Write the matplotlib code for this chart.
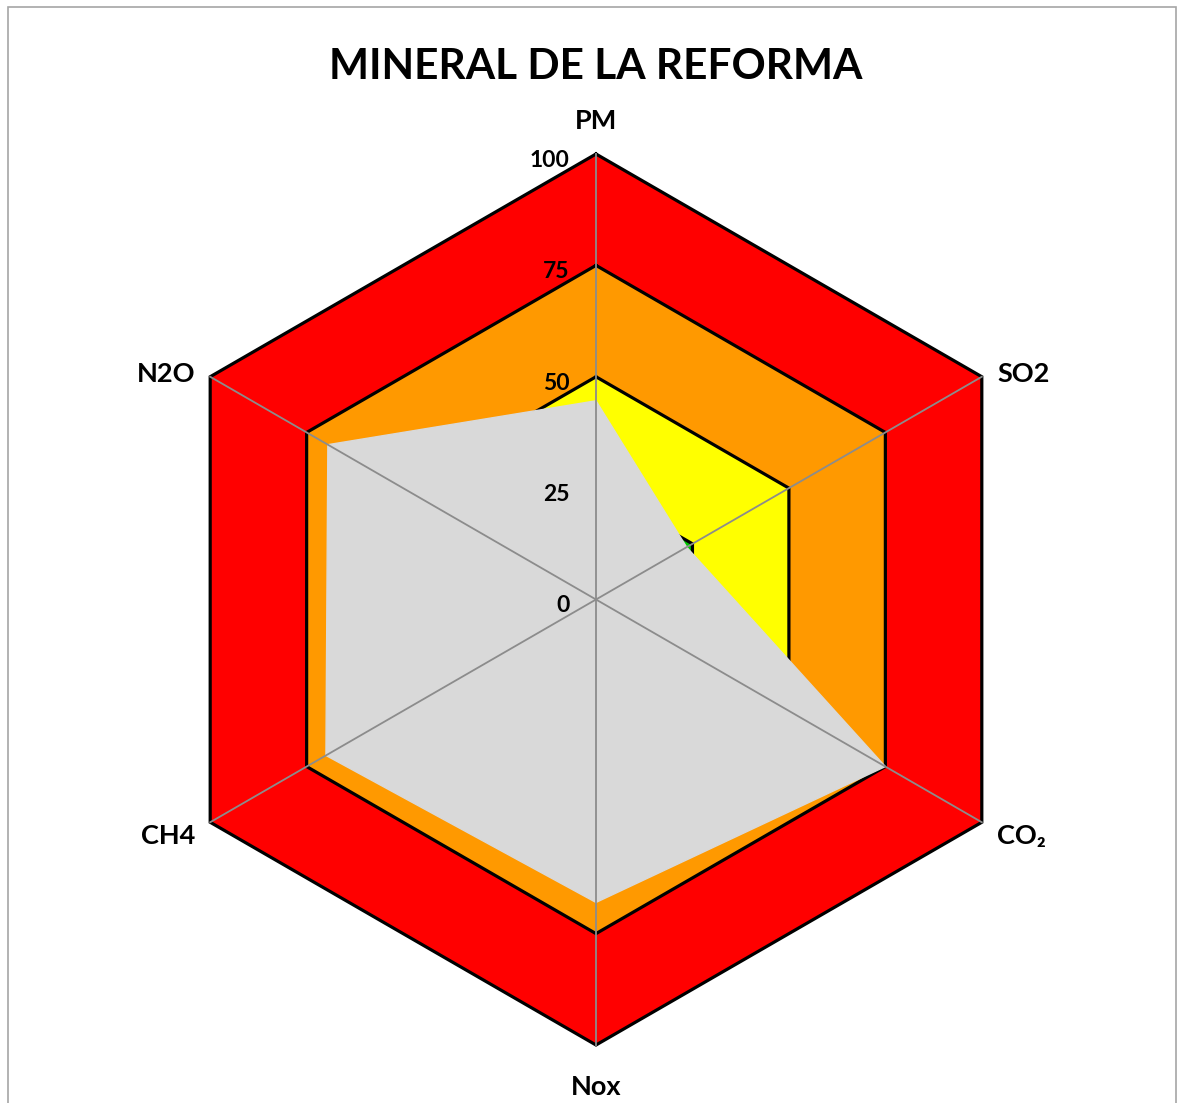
import numpy as np
import matplotlib.pyplot as plt
from matplotlib.patches import Rectangle

categories = ["PM", "SO2", "CO₂", "Nox", "CH4", "N2O"]
values = [44.6, 23.5, 75, 68, 70, 69.5]

band_levels = [100, 75, 50, 25]
band_colors = ["#FF0000", "#FF9900", "#FFFF00", "#00C800"]
tick_values = [0, 25, 50, 75, 100]

plt.rcParams["font.family"] = ["Lato", "DejaVu Sans"]

W, H = 1179, 1103
fig = plt.figure(figsize=(W / 100, H / 100), dpi=100)
fig.patch.set_facecolor("white")

cx, cy, R = 596, 599.5, 445.5
ax = fig.add_axes([(cx - R) / W, (H - cy - R) / H, 2 * R / W, 2 * R / H],
                  projection="polar")
ax.set_theta_zero_location("N")
ax.set_theta_direction(-1)
ax.set_ylim(0, 100)
ax.grid(False)
ax.spines["polar"].set_visible(False)
ax.set_xticks([])
ax.set_yticks([])
ax.patch.set_alpha(0)

n = len(categories)
theta = np.deg2rad(np.arange(n) * 360 / n)
theta_c = np.append(theta, theta[0])

# coloured bands with black outlines
for lvl, col in zip(band_levels, band_colors):
    r = np.full(n + 1, lvl)
    ax.fill(theta_c, r, color=col, zorder=1, clip_on=False)
    ax.plot(theta_c, r, color="black", lw=2.3, zorder=2, clip_on=False,
            solid_joinstyle="miter")

# data
vals = np.append(values, values[0])
ax.fill(theta_c, vals, color="#D9D9D9", zorder=3, clip_on=False)

# spokes
for t in theta:
    ax.plot([t, t], [0, 100], color="#8C8C8C", lw=1.3, zorder=4, clip_on=False)

# radial tick labels
for v in tick_values:
    ax.annotate(str(v), xy=(0, v), xytext=(-19, -4.5), textcoords="offset points",
                ha="right", va="center", fontsize=16.5, fontweight="bold",
                annotation_clip=False)

# category labels
offsets = [((0, 24), "center"), ((11, 2), "left"), ((11, -10), "left"),
           ((0, -30), "center"), ((-11, -10), "right"), ((-11, 2), "right")]
for t, lab, (off, ha) in zip(theta, categories, offsets):
    ax.annotate(lab, xy=(t, 100), xytext=off, textcoords="offset points",
                ha=ha, va="center", fontsize=19.5, fontweight="bold",
                annotation_clip=False)

fig.text(596 / W, 1 - 67 / H, "MINERAL DE LA REFORMA", ha="center", va="center",
         fontsize=30.5, fontweight="bold")

fig.add_artist(Rectangle((8 / W, -0.01), 1168 / W, (H - 7) / H + 0.01,
                         transform=fig.transFigure, fill=False,
                         edgecolor="#A6A6A6", lw=1.2))

fig.savefig("out.png", dpi=100)
